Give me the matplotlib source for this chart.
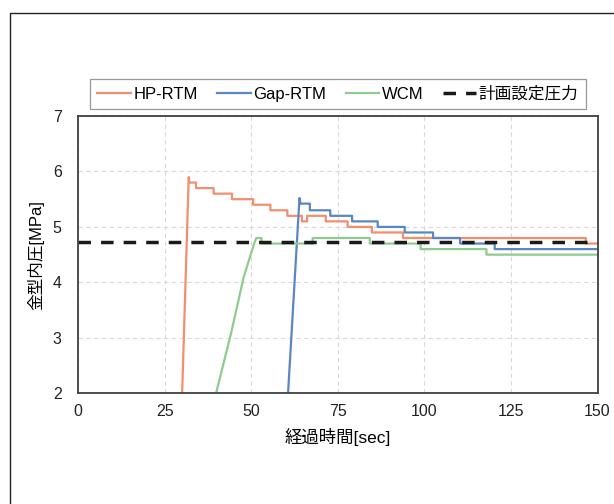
import matplotlib
matplotlib.use("Agg")
import matplotlib.pyplot as plt
from matplotlib.patches import Rectangle

plt.rcParams['font.family'] = ['Liberation Sans', 'Noto Sans CJK JP']
plt.rcParams['font.size'] = 11

# data (time [sec], pressure [MPa])
hp_t = [30.0, 31.9, 32.1, 34.0, 34.0, 39.1, 39.1, 44.4, 44.4, 50.5, 50.5, 55.5, 55.5,
        60.4, 60.4, 64.6, 64.6, 66.1, 66.1, 71.5, 71.5, 77.8, 77.8, 84.8, 84.8,
        93.8, 93.8, 146.6, 146.6, 150.0]
hp_p = [2.0, 5.9, 5.8, 5.8, 5.7, 5.7, 5.6, 5.6, 5.5, 5.5, 5.4, 5.4, 5.3,
        5.3, 5.2, 5.2, 5.1, 5.1, 5.2, 5.2, 5.1, 5.1, 5.0, 5.0, 4.9,
        4.9, 4.8, 4.8, 4.7, 4.7]

gap_t = [60.6, 63.9, 64.2, 64.2, 66.9, 66.9, 72.8, 72.8, 79.1, 79.1, 86.5, 86.5,
         94.3, 94.3, 102.5, 102.5, 110.3, 110.3, 120.3, 120.3, 150.0]
gap_p = [2.0, 5.52, 5.42, 5.42, 5.42, 5.3, 5.3, 5.2, 5.2, 5.1, 5.1, 5.0,
         5.0, 4.9, 4.9, 4.8, 4.8, 4.7, 4.7, 4.6, 4.6]

wcm_t = [39.8, 44.2, 47.8, 50.7, 51.4, 52.9, 52.9, 67.7, 67.7, 84.2, 84.2,
         98.9, 98.9, 117.9, 117.9, 150.0]
wcm_p = [2.0, 3.1, 4.1, 4.68, 4.8, 4.8, 4.7, 4.7, 4.8, 4.8, 4.7,
         4.7, 4.6, 4.6, 4.5, 4.5]

target_p = 4.73
x_ticks = [0, 25, 50, 75, 100, 125, 150]
y_ticks = [2, 3, 4, 5, 6, 7]

fig = plt.figure(figsize=(6.14, 5.04), dpi=100)
ax = fig.add_axes([78.3 / 614, 1 - 393.3 / 504, 519.2 / 614, 277.3 / 504])

ax.plot(hp_t, hp_p, color='#f28e6e', lw=1.6, label='HP-RTM')
ax.plot(gap_t, gap_p, color='#5b86c5', lw=1.6, label='Gap-RTM')
ax.plot(wcm_t, wcm_p, color='#8fcb8f', lw=1.6, label='WCM')
ax.axhline(target_p, color='#1a1a1a', lw=2.5, dashes=(3.6, 2.9), label='計画設定圧力')

ax.set_xlim(0, 150)
ax.set_ylim(2, 7)
ax.set_xticks(x_ticks)
ax.set_yticks(y_ticks)
ax.tick_params(length=0, labelsize=11.5, colors='#222222')
ax.tick_params(axis='x', pad=8)
ax.tick_params(axis='y', pad=12)
ax.grid(True, color='#d9d9d9', ls=(0, (4, 3)), lw=0.8)
ax.set_axisbelow(True)
for s in ax.spines.values():
    s.set_color('#404040')
    s.set_linewidth(1.3)

ax.set_xlabel('経過時間[sec]', fontsize=12.5, labelpad=6)
ax.set_ylabel('金型内圧[MPa]', fontsize=12, labelpad=6)

leg = ax.legend(loc='center', bbox_to_anchor=(0.0225, 1.018, 0.9555, 0.123),
                mode='expand', ncol=4, handlelength=2.0, handletextpad=0.15,
                borderaxespad=0, fancybox=False, edgecolor='#7f7f7f',
                fontsize=12, borderpad=0.45)
leg.get_frame().set_linewidth(0.9)

fig.add_artist(Rectangle((9.5 / 614, -0.1), 1.2, 1 - 13 / 504 + 0.1,
                         transform=fig.transFigure, fill=False,
                         ec='#222222', lw=1.0))

fig.savefig('out.png', dpi=100)
